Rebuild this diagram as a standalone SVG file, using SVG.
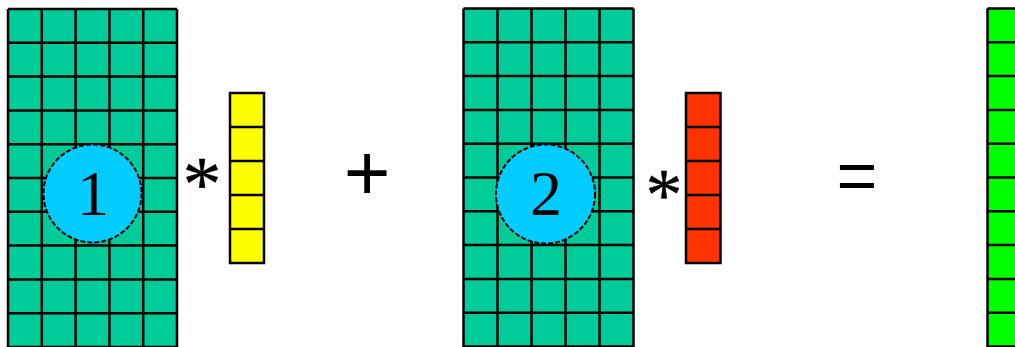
<svg xmlns="http://www.w3.org/2000/svg" width="1015" height="347" viewBox="0 0 1015 347">
<style>
.grid{stroke:#000;stroke-width:2.5;fill:none}
.teal{fill:#00CC99}
.circ{fill:#00CCFF;stroke:#000;stroke-width:2;stroke-dasharray:5 2}
.num{font-family:"Liberation Serif","Times New Roman",serif;font-size:64px;fill:#000;text-anchor:middle}
.op{font-family:"Liberation Sans",Arial,sans-serif;fill:#000;text-anchor:middle}
.ast{font-family:"Liberation Serif","Times New Roman",serif;fill:#000;stroke:#000;stroke-width:0.4;text-anchor:middle}
</style>
<rect width="1015" height="347" fill="#fff"/>
<g id="matrix1">
<rect class="teal" x="8" y="9" width="169" height="340"/>
<path class="grid" d="M8 9V349M41.8 9V349M75.6 9V349M109.4 9V349M143.2 9V349M177 9V349M8 9H177M8 42.8H177M8 76.6H177M8 110.4H177M8 144.2H177M8 178H177M8 211.8H177M8 245.6H177M8 279.4H177M8 313.2H177M8 347H177"/>
</g>
<g id="circle1">
<circle class="circ" cx="92.5" cy="193.5" r="49"/>
<text class="num" x="93" y="215">1</text>
</g>
<g id="times1"><text class="ast" x="202" y="210" font-size="78">*</text></g>
<g id="vector1">
<rect x="230" y="93" width="34" height="170" fill="#FFFF00"/>
<path class="grid" d="M230 93H264V263H230ZM230 127H264M230 161H264M230 195H264M230 229H264"/>
</g>
<g id="plus"><text class="op" x="367" y="200" font-size="80">+</text></g>
<g id="matrix2">
<rect class="teal" x="463.5" y="8.5" width="170" height="340"/>
<path class="grid" d="M463.5 8.5V349M497.5 8.5V349M531.5 8.5V349M565.5 8.5V349M599.5 8.5V349M633.5 8.5V349M463.5 8.5H633.5M463.5 42.3H633.5M463.5 76.1H633.5M463.5 109.9H633.5M463.5 143.7H633.5M463.5 177.5H633.5M463.5 211.3H633.5M463.5 245.1H633.5M463.5 278.9H633.5M463.5 312.7H633.5M463.5 346.5H633.5"/>
</g>
<g id="circle2">
<circle class="circ" cx="545.5" cy="194" r="49.5"/>
<text class="num" x="546" y="215">2</text>
</g>
<g id="times2"><text class="ast" x="664" y="220" font-size="74">*</text></g>
<g id="vector2">
<rect x="686" y="93" width="34.5" height="170" fill="#FF3300"/>
<path class="grid" d="M686 93H720.5V263H686ZM686 127H720.5M686 161H720.5M686 195H720.5M686 229H720.5"/>
</g>
<g id="equals"><text class="op" x="857" y="200" font-size="70">=</text></g>
<g id="result">
<rect x="987.5" y="8.5" width="40" height="340" fill="#00FF00"/>
<path class="grid" d="M987.5 8.5V349M987.5 8.5H1020M987.5 42.3H1020M987.5 76.1H1020M987.5 109.9H1020M987.5 143.7H1020M987.5 177.5H1020M987.5 211.3H1020M987.5 245.1H1020M987.5 278.9H1020M987.5 312.7H1020M987.5 346.5H1020"/>
</g>
</svg>
